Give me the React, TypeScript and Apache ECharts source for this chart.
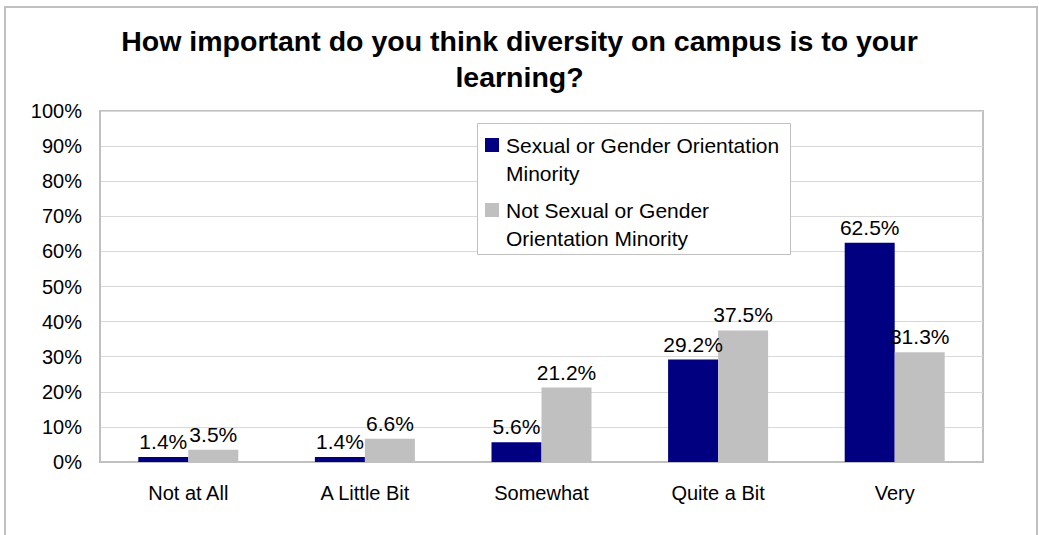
import React, { useEffect, useRef } from "react";
import * as echarts from "echarts";

const titleText = "How important do you think diversity on campus is to your\nlearning?";
const categories = ["Not at All", "A Little Bit", "Somewhat", "Quite a Bit", "Very"];
const seriesNames = ["Sexual or Gender Orientation\nMinority", "Not Sexual or Gender\nOrientation Minority"];
const minorityValues = [1.4, 1.4, 5.6, 29.2, 62.5];
const nonMinorityValues = [3.5, 6.6, 21.2, 37.5, 31.3];
const colors = ["#000080", "#c0c0c0"];

const FONT = "'Liberation Sans', Arial, sans-serif";

export default function App() {
  const ref = useRef<HTMLDivElement>(null);
  useEffect(() => {
    if (!ref.current) return;
    const chart = echarts.init(ref.current, undefined, { renderer: "svg" });
    const labelCfg = {
      show: true,
      position: "top",
      distance: 5,
      color: "#000",
      fontSize: 21,
      fontFamily: FONT,
      formatter: (p: any) => `${p.value.toFixed(1)}%`,
    };
    chart.setOption({
      animation: false,
      backgroundColor: "#fff",
      textStyle: { fontFamily: FONT },
      title: {
        text: titleText,
        left: "center",
        top: 23,
        padding: 0,
        textStyle: { fontSize: 28.5, fontWeight: "bold", color: "#000", lineHeight: 36, fontFamily: FONT },
      },
      graphic: [
        {
          type: "rect",
          z: -10,
          shape: { x: 5, y: 7, width: 1032, height: 700 },
          style: { fill: "none", stroke: "#c0c0c0", lineWidth: 2 },
        },
        {
          type: "rect",
          z: 3,
          shape: { x: 477.5, y: 123.5, width: 313, height: 131 },
          style: { fill: "#fff", stroke: "#c0c0c0", lineWidth: 1 },
        },
      ],
      legend: {
        orient: "vertical",
        left: 485,
        top: 103,
        padding: 0,
        itemGap: -19,
        itemWidth: 14,
        itemHeight: 14,
        icon: "rect",
        z: 4,
        formatter: (name: string) => "\n" + name,
        textStyle: { fontSize: 21, lineHeight: 28, color: "#000", fontFamily: FONT, padding: [0, 0, 0, 2] },
        data: seriesNames,
      },
      grid: {
        left: 100,
        right: 56,
        top: 111,
        bottom: 73,
        show: true,
        borderColor: "#c0c0c0",
        borderWidth: 2,
        backgroundColor: "transparent",
      },
      xAxis: {
        type: "category",
        data: categories,
        axisLine: { show: true, lineStyle: { color: "#c0c0c0", width: 2 } },
        axisTick: { show: false },
        axisLabel: { color: "#000", fontSize: 20, margin: 21, fontFamily: FONT },
      },
      yAxis: {
        type: "value",
        min: 0,
        max: 100,
        interval: 10,
        axisLine: { show: true, lineStyle: { color: "#c0c0c0", width: 2 } },
        axisTick: { show: false },
        axisLabel: { color: "#000", fontSize: 20, margin: 18, formatter: "{value}%", fontFamily: FONT },
        splitLine: { show: true, lineStyle: { color: "#d9d9d9", width: 1 } },
      },
      series: [
        {
          name: seriesNames[0],
          type: "bar",
          data: minorityValues,
          barWidth: 50,
          barGap: "0%",
          itemStyle: { color: colors[0] },
          label: labelCfg,
        },
        {
          name: seriesNames[1],
          type: "bar",
          data: nonMinorityValues,
          barWidth: 50,
          barGap: "0%",
          itemStyle: { color: colors[1] },
          label: labelCfg,
        },
      ],
    });
    return () => chart.dispose();
  }, []);
  return (
    <div
      ref={ref}
      style={{ position: "absolute", left: 0, top: 0, width: 1039, height: 535 }}
    />
  );
}
